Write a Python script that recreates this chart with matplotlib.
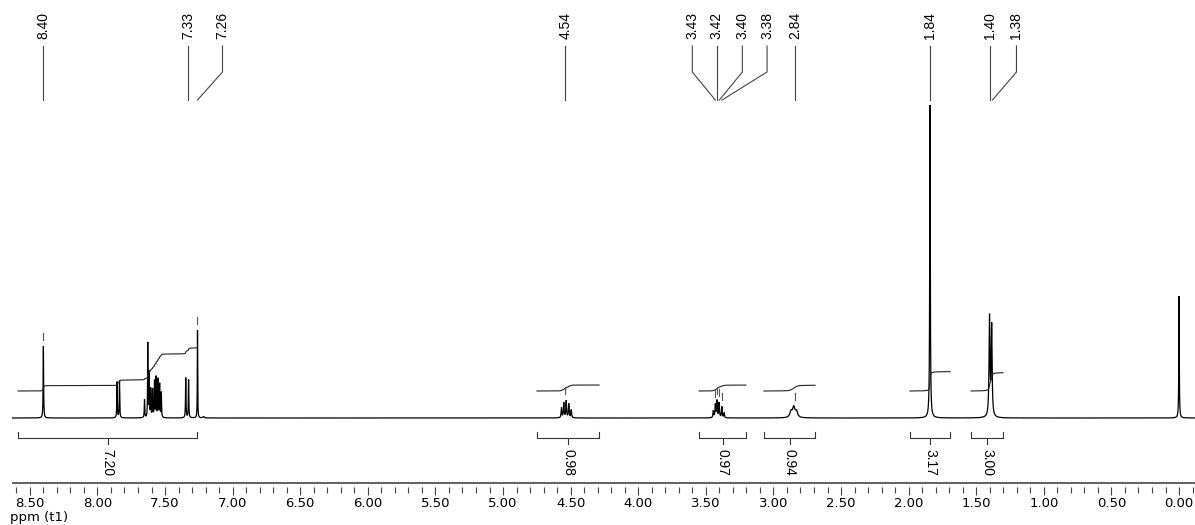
import numpy as np
import matplotlib
matplotlib.use("Agg")
import matplotlib.pyplot as plt

# ---------------- data ----------------
# resonance lines: position (ppm), height (display units), line width (ppm)
peak_ppm = [8.400, 7.855, 7.837, 7.652, 7.628, 7.618, 7.606, 7.592, 7.578, 7.566,
            7.552, 7.540, 7.528, 7.347, 7.326, 7.260, 7.215,
            4.568, 4.551, 4.533, 4.514, 4.496,
            3.445, 3.430, 3.418, 3.402, 3.382, 3.365,
            2.870, 2.850, 2.830,
            1.842, 1.402, 1.386, 0.000]
peak_height = [72, 36, 37, 18, 74, 45, 28, 28, 36, 40,
               38, 33, 25, 40, 38, 88, 1.5,
               10, 15, 17, 14, 8,
               7, 13, 17, 15, 11, 5,
               6, 10, 6,
               313, 99, 90, 122]
peak_fwhm = [0.004, 0.004, 0.004, 0.004, 0.003, 0.004, 0.004, 0.004, 0.004, 0.004,
             0.004, 0.004, 0.004, 0.004, 0.004, 0.003, 0.010,
             0.006, 0.006, 0.006, 0.006, 0.006,
             0.006, 0.006, 0.006, 0.006, 0.006, 0.006,
             0.020, 0.020, 0.020,
             0.005, 0.008, 0.008, 0.004]

# picked peak labels
label_ppm = [8.40, 7.33, 7.26, 4.54, 3.43, 3.42, 3.40, 3.38, 2.84, 1.84, 1.40, 1.38]
marked_ppm = [8.40, 7.26, 4.54, 3.43, 3.42, 3.40, 3.38, 2.84]

# integrals
int_start = [8.587, 4.749, 3.550, 3.070, 1.990, 1.538]
int_end = [7.262, 4.290, 3.203, 2.692, 1.694, 1.302]
int_value = [7.20, 0.98, 0.97, 0.94, 3.17, 3.00]

major_ticks = np.arange(0.0, 8.51, 0.5)
minor_ticks = np.arange(-0.1, 8.61, 0.1)

# ---------------- layout ----------------
W, H = 1195, 525
PX_PER_PPM = 135.2
X_LEFT, X_RIGHT = 8.632, -0.118
label_dx_px = [0, 0, 25, 0, -23, 0, 23, 45, 0, 0, 0, 24]
PX_PER_UNIT = 6.1
LABEL_FONT = ['Liberation Sans', 'DejaVu Sans']


def py(ypx):
    return 418 - ypx


fig = plt.figure(figsize=(W / 100, H / 100), dpi=100)
ax = fig.add_axes([12 / W, 0, (W - 12) / W, 1])
ax.set_xlim(X_LEFT, X_RIGHT)
ax.set_ylim(py(H), py(0))

# spectrum from Lorentzian lines
ppm = np.linspace(X_LEFT, X_RIGHT, 40000)
spec = np.zeros_like(ppm)
for p0, h, w in zip(peak_ppm, peak_height, peak_fwhm):
    spec += h / (1 + ((ppm - p0) / (w / 2)) ** 2)
ax.plot(ppm, spec, color='black', lw=0.9, solid_joinstyle='miter')

# integral curves and brackets
for a, b, v in zip(int_start, int_end, int_value):
    m = (ppm <= a) & (ppm >= b)
    cum = np.cumsum(spec[m])
    cum = cum / cum[-1] * v * PX_PER_UNIT + py(391)
    ax.plot(ppm[m], cum, color='#222222', lw=0.8)
    c = (a + b) / 2
    ax.plot([a, a, b, b], [py(432), py(438), py(438), py(432)], color='#333333', lw=0.8)
    ax.plot([c, c], [py(438), py(444)], color='#333333', lw=0.8)
    ax.text(c, py(449), f"{v:.2f}", rotation=-90, ha='center', va='top',
            fontsize=10, family=LABEL_FONT, color='black')

# peak pick markers
for p in marked_ppm:
    m = np.abs(ppm - p) < 0.008
    top = spec[m].max()
    ax.plot([p, p], [top + 6, top + 13], color='#555555', lw=0.8)

# peak labels with leader lines
for p, dx in zip(label_ppm, label_dx_px):
    xl = p - dx / PX_PER_PPM
    ax.plot([xl, xl, p], [py(46), py(72), py(100)], color='#444444', lw=0.8)
    ax.text(xl, py(39), f"{p:.2f}", rotation=90, ha='center', va='bottom',
            fontsize=10, family=LABEL_FONT, color='black')

# axis
ax.axhline(py(483), color='#444444', lw=1.2)
for s in ['top', 'left', 'right']:
    ax.spines[s].set_visible(False)
ax.spines['bottom'].set_position(('data', py(487)))
ax.spines['bottom'].set_color('none')
ax.set_yticks([])
ax.set_xticks(major_ticks)
ax.set_xticklabels([f"{t:.2f}" for t in major_ticks])
ax.set_xticks(minor_ticks, minor=True)
ax.tick_params(axis='x', which='major', direction='out', length=6, width=0.8,
               color='#444444', pad=1.5, labelsize=9.5)
ax.tick_params(axis='x', which='minor', direction='out', length=4, width=0.8,
               color='#444444')
fig.text(10 / W, 1 - 518 / H, "ppm (t1)", ha='left', va='center', fontsize=9.5)

fig.savefig("out.png", dpi=100)
